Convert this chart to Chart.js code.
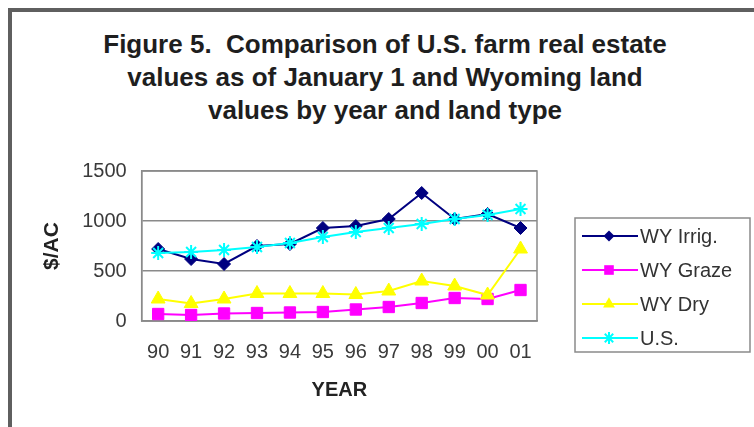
<!DOCTYPE html>
<html>
<head>
<meta charset="utf-8">
<script src="https://cdn.jsdelivr.net/npm/chart.js@4/dist/chart.umd.min.js"></script>
<style>
body { margin: 0; background: #fff; }
#wrap { position: relative; width: 754px; height: 427px; overflow: hidden; background: #fff; }
#frame { position: absolute; left: 8px; top: 8px; width: 900px; height: 600px; border-left: 4px solid #5f5f5f; border-top: 4px solid #5f5f5f; }
#title { position: absolute; left: 0; width: 770px; top: 28px; text-align: center; font: bold 26px "Liberation Sans", Arial, sans-serif; line-height: 33px; color: #1e1e1e; }
canvas { position: absolute; left: 0; top: 0; }
</style>
</head>
<body>
<div id="wrap">
  <div id="frame"></div>
  <div id="title">Figure 5.&nbsp; Comparison of U.S. farm real estate<br>values as of January 1 and Wyoming land<br>values by year and land type</div>
  <canvas id="landChart" width="754" height="427"></canvas>
</div>
<script>
// values ($/acre)
const years = ['90', '91', '92', '93', '94', '95', '96', '97', '98', '99', '00', '01'];
const wyIrrig = [720, 620, 570, 750, 770, 930, 950, 1020, 1280, 1020, 1070, 930];
const wyGraze = [70, 60, 75, 80, 85, 90, 115, 140, 180, 230, 220, 310];
const wyDry = [220, 175, 220, 275, 275, 275, 265, 300, 400, 350, 260, 720];
const usAvg = [680, 690, 710, 740, 780, 840, 890, 930, 970, 1020, 1060, 1120];
const yTicks = [0, 500, 1000, 1500];

const seriesNames = ['WY Irrig.', 'WY Graze', 'WY Dry', 'U.S.'];
const seriesColors = ['#000080', '#ff00ff', '#ffff00', '#00ffff'];
const pointStyles = ['rectRot', 'rect', 'triangle', 'star'];
const pointSizes = [6.5, 8, 8, 7];

const fontFamily = '"Liberation Sans", Arial, sans-serif';

function makeDataset(i, values) {
    return {
        label: seriesNames[i],
        data: values,
        borderColor: seriesColors[i],
        backgroundColor: seriesColors[i],
        borderWidth: 2,
        pointStyle: pointStyles[i],
        pointRadius: pointSizes[i],
        pointBorderWidth: i === 3 ? 2 : 1,
        pointBackgroundColor: seriesColors[i],
        pointBorderColor: seriesColors[i],
        tension: 0,
        order: 4 - i
    };
}

// grey frame around the plot area
const plotFrame = {
    id: 'plotFrame',
    beforeDatasetsDraw(chart) {
        const a = chart.chartArea;
        const ctx = chart.ctx;
        ctx.save();
        ctx.strokeStyle = '#8a8a8a';
        ctx.lineWidth = 1.5;
        ctx.strokeRect(a.left, a.top, a.right - a.left, a.bottom - a.top);
        ctx.restore();
    }
};

// same shapes as chart.js point styles
function drawMarker(ctx, style, x, y, r, color) {
    ctx.fillStyle = color;
    ctx.strokeStyle = color;
    ctx.beginPath();
    if (style === 'rectRot') {
        ctx.moveTo(x, y - r); ctx.lineTo(x + r, y); ctx.lineTo(x, y + r); ctx.lineTo(x - r, y);
        ctx.closePath(); ctx.fill();
    } else if (style === 'rect') {
        const s = r / Math.SQRT2;
        ctx.rect(x - s, y - s, 2 * s, 2 * s); ctx.fill();
    } else if (style === 'triangle') {
        ctx.moveTo(x, y - r); ctx.lineTo(x + r * 0.87, y + r * 0.5); ctx.lineTo(x - r * 0.87, y + r * 0.5);
        ctx.closePath(); ctx.fill();
    } else {
        const d = r * Math.SQRT1_2;
        ctx.lineWidth = 2;
        ctx.moveTo(x - d, y - d); ctx.lineTo(x + d, y + d);
        ctx.moveTo(x + d, y - d); ctx.lineTo(x - d, y + d);
        ctx.moveTo(x, y - r); ctx.lineTo(x, y + r);
        ctx.moveTo(x - r, y); ctx.lineTo(x + r, y);
        ctx.stroke();
    }
}

// Excel style boxed legend on the right
const boxLegend = {
    id: 'boxLegend',
    afterDraw(chart) {
        const ctx = chart.ctx;
        const box = { x: 575, y: 218, w: 175, h: 134 };
        ctx.save();
        ctx.strokeStyle = '#8a8a8a';
        ctx.lineWidth = 1.5;
        ctx.strokeRect(box.x, box.y, box.w, box.h);
        ctx.font = '20px ' + fontFamily;
        ctx.textBaseline = 'middle';
        chart.data.datasets.forEach((ds, i) => {
            const y = 236 + i * 34;
            ctx.strokeStyle = ds.borderColor;
            ctx.lineWidth = 2;
            ctx.beginPath();
            ctx.moveTo(582, y);
            ctx.lineTo(638, y);
            ctx.stroke();
            drawMarker(ctx, ds.pointStyle, 609, y, ds.pointRadius * 0.85, ds.borderColor);
            ctx.fillStyle = '#333';
            ctx.fillText(ds.label, 640, y + 1);
        });
        ctx.restore();
    }
};

const ctx = document.getElementById('landChart').getContext('2d');
const landChart = new Chart(ctx, {
    type: 'line',
    data: {
        labels: years,
        datasets: [
            makeDataset(0, wyIrrig),
            makeDataset(1, wyGraze),
            makeDataset(2, wyDry),
            makeDataset(3, usAvg)
        ]
    },
    options: {
        responsive: false,
        devicePixelRatio: 1,
        animation: false,
        layout: {
            padding: { left: 10, right: 217, top: 171, bottom: 21 }
        },
        plugins: {
            legend: { display: false },
            title: { display: false },
            tooltip: { enabled: false }
        },
        scales: {
            x: {
                offset: true,
                grid: { display: false, drawTicks: false },
                border: { display: true, color: '#8a8a8a', width: 1.5 },
                ticks: {
                    padding: 19,
                    maxRotation: 0,
                    color: '#3a3a3a',
                    font: { family: fontFamily, size: 20 }
                },
                title: {
                    display: true,
                    text: 'YEAR',
                    color: '#222',
                    font: { family: fontFamily, size: 20, weight: 'bold' },
                    padding: { top: -5, bottom: 4 }
                }
            },
            y: {
                min: 0,
                max: 1500,
                afterBuildTicks(scale) {
                    scale.ticks = yTicks.map(v => ({ value: v }));
                },
                grid: { color: '#8a8a8a', lineWidth: 1.5, drawTicks: false },
                border: { display: true, color: '#8a8a8a', width: 1.5 },
                ticks: {
                    padding: 15,
                    color: '#3a3a3a',
                    font: { family: fontFamily, size: 20 },
                    callback: value => String(value)
                },
                title: {
                    display: true,
                    text: '$/AC',
                    color: '#222',
                    font: { family: fontFamily, size: 21, weight: 'bold' },
                    padding: { top: 30, bottom: 2 }
                }
            }
        }
    },
    plugins: [plotFrame, boxLegend]
});
</script>
</body>
</html>
